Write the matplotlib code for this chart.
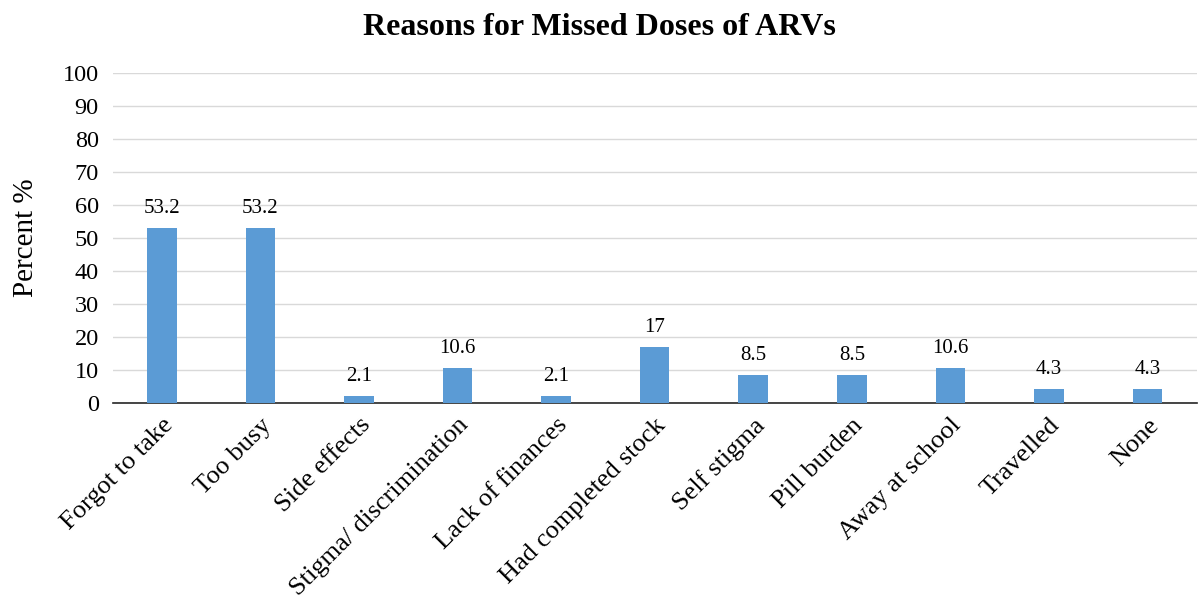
"""Reasons for missed doses of ARVs bar chart."""

import matplotlib
matplotlib.use("Agg")
import matplotlib.pyplot as plt

categories = [
    "Forgot to take", "Too busy", "Side effects", "Stigma/ discrimination",
    "Lack of finances", "Had completed stock", "Self stigma", "Pill burden",
    "Away at school", "Travelled", "None",
]
percent = [53.2, 53.2, 2.1, 10.6, 2.1, 17, 8.5, 8.5, 10.6, 4.3, 4.3]
labels = ["53.2", "53.2", "2.1", "10.6", "2.1", "17", "8.5", "8.5", "10.6", "4.3", "4.3"]

plt.rcParams["font.family"] = ["Liberation Serif", "DejaVu Serif"]

fig = plt.figure(figsize=(11.98, 6.05), dpi=100)
ax = fig.add_axes([0.094, 0.334, 0.905, 0.545])

x = range(len(categories))
bars = ax.bar(x, percent, width=0.3, color="#5B9BD5", zorder=3)
for b, lab in zip(bars, labels):
    ax.text(b.get_x() + b.get_width() / 2, b.get_height() + 3, lab,
            ha="center", va="bottom", fontsize=15)

ax.set_xlim(-0.5, len(categories) - 0.5)
ax.set_ylim(0, 100)
ax.set_yticks(range(0, 101, 10))
ax.yaxis.grid(True, color="#D9D9D9", linewidth=1, zorder=0)
ax.set_xticks(list(x))
ax.set_xticklabels(categories, rotation=45, ha="right", rotation_mode="anchor",
                   fontsize=19)
ax.tick_params(axis="y", labelsize=17.5, length=0, pad=10)
ax.tick_params(axis="x", length=0, pad=8)

for s in ["left", "right", "top"]:
    ax.spines[s].set_visible(False)
ax.spines["bottom"].set_color("#262626")
ax.spines["bottom"].set_linewidth(1.2)

ax.set_ylabel("Percent %", fontsize=21)
ax.yaxis.set_label_coords(-0.068, 0.5)
fig.suptitle("Reasons for Missed Doses of ARVs", fontsize=23, fontweight="bold",
             x=0.5, y=0.978)

fig.savefig("out.png", dpi=100)
